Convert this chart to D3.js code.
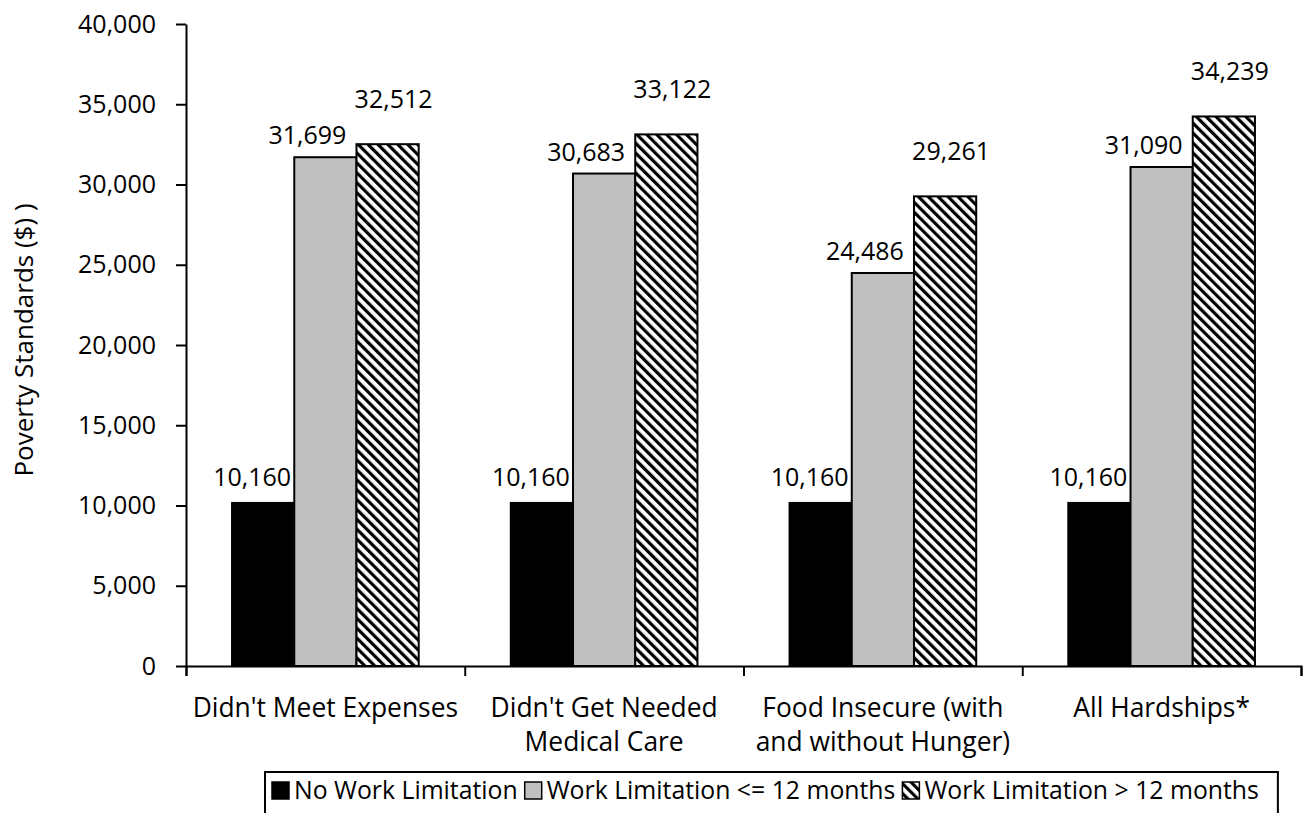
<!DOCTYPE html>
<html>
    <head>
        <script src="https://d3js.org/d3.v7.min.js"></script>
        <style>
            body { margin: 0; background: #fff; }
            text { font-family: "Open Sans", "Noto Sans", sans-serif; font-size: 25px; fill: #000; }
            .axis path,
            .axis line {
                fill: none;
                stroke: #000;
                stroke-width: 2;
            }
        </style>
    </head>
    <body>
        <div id="chart"></div>
    </body>
    <script>
        // data
        var categories = [
            ["Didn't Meet Expenses"],
            ["Didn't Get Needed", "Medical Care"],
            ["Food Insecure (with", "and without Hunger)"],
            ["All Hardships*"]
        ];
        var seriesNames = ["No Work Limitation", "Work Limitation <= 12 months", "Work Limitation > 12 months"];
        var noLimit = [10160, 10160, 10160, 10160];
        var limitShort = [31699, 30683, 24486, 31090];
        var limitLong = [32512, 33122, 29261, 34239];
        var yTicks = [0, 5000, 10000, 15000, 20000, 25000, 30000, 35000, 40000];

        var width = 1303, height = 813;
        var margin = {top: 24, right: 2, bottom: 147, left: 186};
        var plotW = width - margin.left - margin.right,
            plotH = height - margin.top - margin.bottom;

        var fills = ["#000", "#c0c0c0", "url(#hatch)"];
        // label nudges per series (dx, dy above bar top)
        var labelDx = [-11, -18, 6], labelDy = [-17, -13, -36];

        var seriesValues = [noLimit, limitShort, limitLong];
        var rows = categories.map(function(c, i) {
            return {cat: i, vals: seriesValues.map(function(s, j) { return {s: j, v: s[i]}; })};
        });

        var svg = d3.select("#chart").append("svg")
            .attr("width", width)
            .attr("height", height);

        var defs = svg.append("defs");
        var pat = defs.append("pattern")
            .attr("id", "hatch")
            .attr("patternUnits", "userSpaceOnUse")
            .attr("width", 7).attr("height", 7)
            .attr("patternTransform", "rotate(-45)");
        pat.append("rect").attr("width", 7).attr("height", 7).attr("fill", "#fff");
        pat.append("rect").attr("width", 3.2).attr("height", 7).attr("fill", "#000");

        var g = svg.append("g")
            .attr("transform", "translate(" + margin.left + "," + margin.top + ")");

        var x0 = d3.scaleBand().domain(d3.range(categories.length)).range([0, plotW]);
        var x1 = d3.scaleBand().domain(d3.range(seriesNames.length))
            .range([0, x0.bandwidth()]).paddingInner(0).paddingOuter(0.74);
        var y = d3.scaleLinear().domain([0, 40000]).range([plotH, 0]);

        // bars
        var groups = g.selectAll(".cat").data(rows).enter().append("g")
            .attr("transform", function(d) { return "translate(" + x0(d.cat) + ",0)"; });

        groups.selectAll("rect").data(function(d) { return d.vals; }).enter().append("rect")
            .attr("x", function(d) { return x1(d.s); })
            .attr("y", function(d) { return y(d.v); })
            .attr("width", x1.bandwidth())
            .attr("height", function(d) { return plotH - y(d.v); })
            .attr("fill", function(d) { return fills[d.s]; })
            .attr("stroke", "#000")
            .attr("stroke-width", 2);

        groups.selectAll("text.val").data(function(d) { return d.vals; }).enter().append("text")
            .attr("class", "val")
            .attr("text-anchor", "middle")
            .attr("x", function(d) { return x1(d.s) + x1.bandwidth() / 2 + labelDx[d.s]; })
            .attr("y", function(d) { return y(d.v) + labelDy[d.s]; })
            .text(function(d) { return d3.format(",")(d.v); });

        // y axis
        var yAxis = d3.axisLeft(y).tickValues(yTicks).tickFormat(d3.format(","))
            .tickSizeInner(10).tickSizeOuter(0).tickPadding(20);
        g.append("g").attr("class", "axis").call(yAxis)
            .selectAll("text").style("font-size", "25px").style("font-family", "'Open Sans'");

        // x axis with ticks at category boundaries
        var xb = d3.scaleLinear().domain([0, categories.length]).range([0, plotW]);
        var xAxis = d3.axisBottom(xb).tickValues(d3.range(categories.length + 1))
            .tickSize(10).tickFormat("");
        g.append("g").attr("class", "axis")
            .attr("transform", "translate(0," + plotH + ")")
            .call(xAxis);

        // category labels
        var catLabels = g.selectAll(".catlab").data(categories).enter().append("text")
            .attr("class", "catlab")
            .attr("text-anchor", "middle")
            .style("font-size", "26.4px")
            .attr("transform", function(d, i) {
                return "translate(" + (x0(i) + x0.bandwidth() / 2) + "," + (plotH + 51) + ")";
            });
        catLabels.selectAll("tspan").data(function(d) { return d; }).enter().append("tspan")
            .attr("x", 0)
            .attr("dy", function(d, i) { return i ? 34 : 0; })
            .text(function(d) { return d; });

        // y title
        svg.append("text")
            .attr("text-anchor", "middle")
            .style("font-size", "26px")
            .attr("transform", "translate(33,340) rotate(-90)")
            .text("Poverty Standards ($) )");

        // legend
        var leg = svg.append("g").attr("transform", "translate(265,772)");
        var legBox = leg.append("rect")
            .attr("fill", "#fff").attr("stroke", "#000").attr("stroke-width", 2)
            .attr("height", 80);
        var lx = 7;
        seriesNames.forEach(function(name, i) {
            leg.append("rect")
                .attr("x", lx).attr("y", 10)
                .attr("width", 17).attr("height", 17)
                .attr("fill", fills[i]).attr("stroke", "#000").attr("stroke-width", 1.5);
            var t = leg.append("text")
                .attr("x", lx + 22).attr("y", 27)
                .style("font-size", "24.8px")
                .text(name);
            lx += 22 + t.node().getComputedTextLength() + 7;
        });
        legBox.attr("width", lx + 12);
    </script>
</html>
